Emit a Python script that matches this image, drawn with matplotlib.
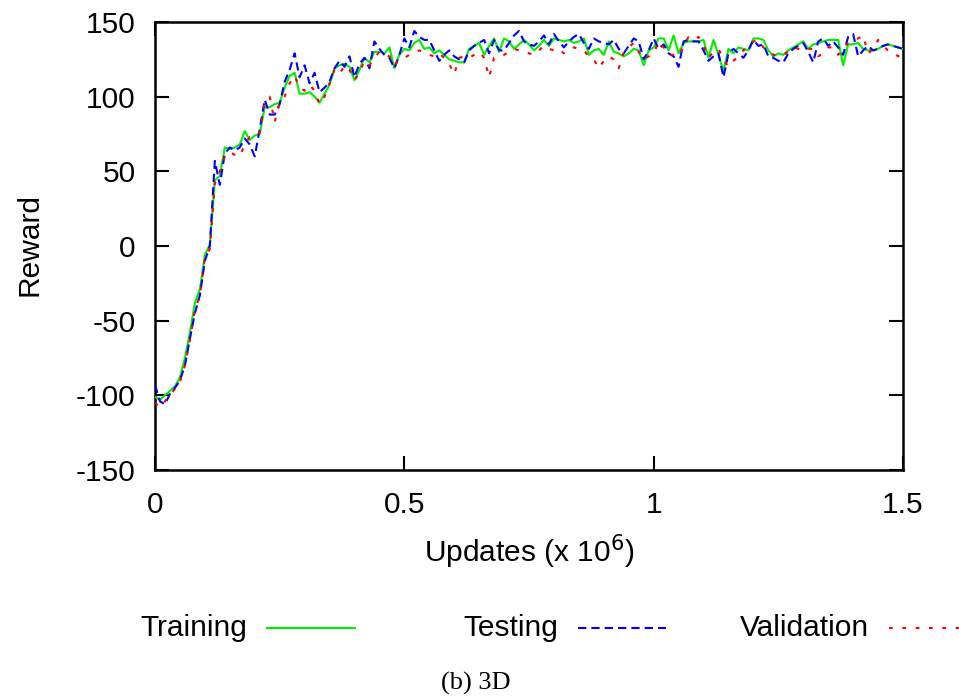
import numpy as np
import matplotlib
matplotlib.use("Agg")
import matplotlib.pyplot as plt
from matplotlib.lines import Line2D

# ---- data (x in units of 1e6 updates, step 0.01) ----
updates = [round(i * 0.01, 2) for i in range(151)]

training = [
    -101, -103, -100, -97, -94, -88, -75, -58, -38, -29,
    -6, 1, 44, 47, 66, 65, 66, 68, 77, 71,
    74, 75, 93, 93, 95, 96, 106, 114, 116, 102,
    102, 103, 100, 96, 102, 108, 119, 121, 122, 120,
    111, 118, 126, 123, 130, 130, 129, 133, 119, 128,
    132, 131, 136, 138, 132, 133, 129, 131, 128, 125,
    124, 123, 123, 132, 134, 136, 128, 134, 139, 130,
    139, 137, 132, 135, 138, 135, 131, 134, 138, 134,
    139, 138, 137, 138, 136, 137, 139, 128, 131, 132,
    128, 137, 130, 129, 127, 129, 132, 131, 121, 131,
    133, 139, 139, 131, 141, 129, 136, 137, 137, 137,
    138, 126, 138, 128, 117, 132, 129, 133, 132, 131,
    139, 139, 138, 131, 127, 129, 128, 131, 133, 135,
    137, 132, 135, 136, 137, 138, 138, 138, 121, 135,
    135, 136, 132, 131, 131, 132, 134, 135, 134, 133, 132,
]

testing = [
    -93, -104, -106, -99, -95, -90, -80, -62, -45, -33,
    -10, 0, 57, 41, 62, 66, 64, 66, 72, 68,
    60, 78, 98, 88, 88, 95, 110, 118, 129, 113,
    121, 109, 116, 103, 106, 110, 119, 124, 120, 127,
    113, 122, 126, 119, 137, 132, 128, 126, 119, 128,
    139, 133, 144, 140, 138, 138, 131, 124, 128, 131,
    127, 125, 123, 131, 134, 136, 138, 129, 138, 131,
    131, 136, 141, 144, 137, 135, 134, 137, 141, 135,
    142, 137, 133, 137, 140, 142, 136, 132, 139, 137,
    136, 135, 138, 132, 129, 134, 139, 137, 125, 131,
    139, 132, 135, 129, 127, 120, 137, 138, 137, 137,
    131, 124, 127, 129, 113, 129, 132, 129, 126, 131,
    138, 134, 135, 127, 126, 124, 123, 129, 132, 134,
    136, 130, 123, 137, 139, 134, 137, 133, 128, 140,
    142, 127, 131, 134, 131, 132, 134, 135, 134, 133, 132,
]

validation = [
    -105, -108, -104, -99, -96, -91, -80, -63, -43, -33,
    -8, -2, 42, 50, 60, 63, 61, 60, 68, 73,
    73, 76, 96, 100, 83, 96, 100, 109, 114, 106,
    104, 108, 104, 95, 100, 109, 118, 115, 121, 118,
    111, 116, 124, 121, 126, 130, 128, 127, 121, 125,
    126, 128, 129, 131, 130, 128, 127, 129, 126, 122,
    115, 126, 127, 126, 128, 130, 126, 113, 126, 127,
    128, 130, 132, 131, 130, 129, 128, 131, 134, 132,
    131, 132, 129, 131, 133, 132, 131, 127, 125, 119,
    124, 127, 125, 119, 130, 133, 136, 130, 125, 127,
    129, 137, 133, 128, 128, 127, 134, 140, 138, 140,
    134, 126, 130, 132, 125, 120, 124, 127, 131, 134,
    137, 138, 133, 131, 128, 128, 128, 130, 133, 132,
    131, 132, 132, 127, 129, 133, 133, 128, 132, 136,
    137, 139, 141, 129, 132, 138, 134, 131, 130, 127, 130,
]

series_names = ["Training", "Testing", "Validation"]
x_ticks = [0, 0.5, 1, 1.5]
x_tick_labels = ["0", "0.5", "1", "1.5"]
y_ticks = [-150, -100, -50, 0, 50, 100, 150]

plt.rcParams['font.family'] = ['Liberation Sans', 'DejaVu Sans']
plt.rcParams['axes.unicode_minus'] = False

W, H = 959, 700
fig = plt.figure(figsize=(W / 100, H / 100), dpi=100)
ax = fig.add_axes([155 / W, 1 - 470 / H, (903 - 155) / W, (470 - 22) / H])

lw = 1.5
styles = [
    dict(color='#00ee00', linestyle='-'),
    dict(color='#0000ff', linestyle=(0, (4.0, 2.4))),
    dict(color='#ff0000', linestyle=(0, (1.8, 4.6))),
]
all_series = [training, testing, validation]
for k, (vals, st) in enumerate(zip(all_series, styles)):
    ax.plot(updates, vals, lw=lw, zorder=3 + k, **st)

ax.set_xlim(0, 1.5)
ax.set_ylim(-150, 150)
ax.set_xticks(x_ticks)
ax.set_xticklabels(x_tick_labels)
ax.set_yticks(y_ticks)
ax.tick_params(direction='in', length=10, width=1.5, top=True, right=True,
               labelsize=21.5)
ax.tick_params(axis='x', pad=15)
ax.tick_params(axis='y', pad=14)
for sp in ax.spines.values():
    sp.set_linewidth(1.8)

ax.set_xlabel("Updates (x 10$^6$)", fontsize=21.5, va='center')
ax.xaxis.set_label_coords(0.5, -(552 - 470) / 448)
ax.set_ylabel("Reward", fontsize=21.5, va='center')
ax.yaxis.set_label_coords((30 - 155) / 748, (470 - 245) / 448)

# gnuplot-style key: right-justified text followed by the line sample
text_right = [247, 558, 869]
key_y = 1 - 628 / H
for name, st, xr in zip(series_names, styles, text_right):
    fig.text(xr / W, key_y, name, ha='right', va='center', fontsize=21.5)
    fig.add_artist(Line2D([(xr + 20) / W, (xr + 108) / W], [key_y, key_y],
                          transform=fig.transFigure, lw=lw, **st))

fig.text(476 / W, 1 - 683 / H, "(b) 3D", ha='center', va='center',
         family=['Liberation Serif', 'DejaVu Serif'], fontsize=19)

fig.savefig("out.png", dpi=100)
